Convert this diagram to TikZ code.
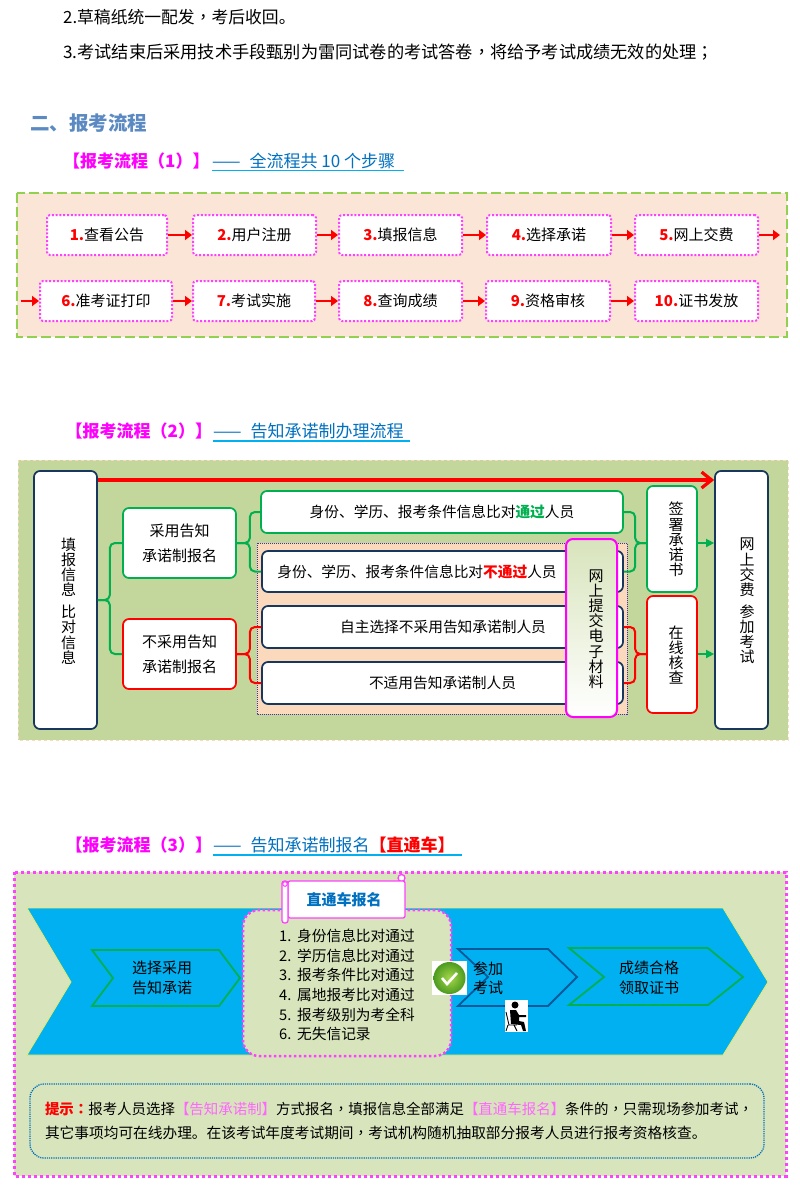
\documentclass[tikz,border=0pt]{standalone}
\usepackage{fontspec}
\setmainfont{Noto Sans CJK SC}
\newfontfamily\cjktc{Noto Sans CJK TC}
\usetikzlibrary{arrows.meta}

\definecolor{headblue}{HTML}{5B8AC3}
\definecolor{linkblue}{HTML}{0070C0}
\definecolor{cyanline}{HTML}{00B0F0}
\definecolor{pinkhead}{HTML}{FF00FF}
\definecolor{stepdot}{HTML}{FF40FF}
\definecolor{peach}{HTML}{FBE5D6}
\definecolor{peachdark}{HTML}{FBD9BC}
\definecolor{limeframe}{HTML}{92D050}
\definecolor{olivepanel}{HTML}{C3D69B}
\definecolor{palepanel}{HTML}{D8E4BC}
\definecolor{navyline}{HTML}{17375E}
\definecolor{okgreen}{HTML}{00B050}
\definecolor{softpink}{HTML}{FF66FF}
\definecolor{ballin}{HTML}{A6D84B}
\definecolor{ballout}{HTML}{4C9A20}
\definecolor{dotpurple}{HTML}{4B2FA8}

\newcommand{\cnfont}[1]{\fontsize{#1}{#1}\selectfont}
\newcommand{\zhcomma}{{\cjktc ，}}

\tikzset{
	plaintext/.style={inner sep=0pt, anchor=west},
	headpink/.style={plaintext, text=pinkhead, font=\cnfont{17}\bfseries},
	headlink/.style={plaintext, text=linkblue, font=\cnfont{17}},
	headrule/.style={cyanline, line width=1.4pt},
	stepbox/.style={draw=stepdot, fill=white, line width=2pt, dash pattern=on 2pt off 1.8pt, rounded corners=3pt, minimum height=40pt, inner sep=0pt, font=\cnfont{15}},
	steparrow/.style={red, line width=2.4pt, -{Triangle[length=7pt,width=10pt]}},
	navybox/.style={draw=navyline, fill=white, line width=1.7pt, rounded corners=6pt, inner sep=0pt, font=\cnfont{15}},
	greenbox/.style={navybox, draw=okgreen},
	redbox/.style={navybox, draw=red},
	rowtext/.style={inner sep=0pt, font=\cnfont{14.7}},
	stacktext/.style={inner sep=0pt, align=center, font=\fontsize{15}{15.2}\selectfont},
	twolines/.style={inner sep=0pt, align=center, font=\fontsize{15}{25}\selectfont},
	arrowlines/.style={inner sep=0pt, align=center, font=\fontsize{15}{19.5}\selectfont},
	gbrace/.style={okgreen, line width=2pt, rounded corners=5pt},
	rbrace/.style={red, line width=2pt, rounded corners=5pt},
	okarrow/.style={okgreen, line width=1.5pt, -{Triangle[length=8pt,width=8pt]}},
	chevron/.style={line width=1.8pt, line join=miter},
}

\begin{document}
\begin{tikzpicture}[x=1pt, y=-1pt]
	\useasboundingbox (0,0) rectangle (800,1189);
	\fill[white] (0,0) rectangle (800,1189);

	\node[plaintext, font=\cnfont{16.8}] (note2) at (63,17) {2.草稿纸统一配发{\cjktc ，}考后收回。};
	\node[plaintext, font=\cnfont{17.2}] (note3) at (63,52) {3.考试结束后采用技术手段甄别为雷同试卷的考试答卷\zhcomma 将给予考试成绩无效的处理{\cjktc ；}};
	\node[plaintext, text=headblue, font=\cnfont{19.5}\bfseries] (title) at (30,123) {二、报考流程};

	% first part
	\node[headpink] (head1) at (63,161) {【报考流程（1）】};
	\node[headlink] (link1) at (212,161) {——\hspace{9pt}全流程共 10 个步骤};
	\draw[headrule] (212,170.5) -- (404,170.5);

	\draw[limeframe, fill=peach, line width=2.2pt, dash pattern=on 10pt off 4pt] (17,193) rectangle (787,337);

	\foreach \name/\num/\txt/\cx/\boxw/\cy in {s1/1./查看公告/107/120/235, s2/2./用户注册/254.5/123/235, s3/3./填报信息/400.5/123/235, s4/4./选择承诺/549/124/235, s5/5./网上交费/696.5/123/235, s6/6./准考证打印/106/132/301, s7/7./考试实施/254/122/301, s8/8./查询成绩/400.5/123/301, s9/9./资格审核/548/124/301, s10/10./证书发放/696.5/123/301}
		\node[stepbox, minimum width=\boxw pt] (\name) at (\cx,\cy) {\textcolor{red}{\bfseries\num}\txt};

	\foreach \a/\b in {s1/s2, s2/s3, s3/s4, s4/s5, s6/s7, s7/s8, s8/s9, s9/s10}
		\draw[steparrow] (\a) -- (\b);
	\coordinate (rowend) at (780,235);
	\coordinate (rowstart) at (21,301);
	\draw[steparrow] (s5) -- (rowend);
	\draw[steparrow] (rowstart) -- (s6);

	% second part
	\node[headpink] (head2) at (65.5,431) {【报考流程（2）】};
	\node[headlink] (link2) at (213,431) {——\hspace{9pt}告知承诺制办理流程};
	\draw[headrule] (213,441) -- (410,441);

	\draw[peachdark, fill=olivepanel, line width=1pt, dashed] (18,460) rectangle (788,740);
	\fill[peachdark] (257,543) rectangle (627,714);
	\draw[dotpurple, line width=1pt, dash pattern=on 1pt off 1pt] (257,543) rectangle (627,714);

	\node[navybox, minimum width=63pt, minimum height=258pt] (infobox) at (65.5,600) {};
	\node[stacktext] (infotext) at (68.5,601) {填\\报\\信\\息\\[6.5pt]比\\对\\信\\息};
	\node[greenbox, minimum width=113pt, minimum height=70pt] (useyes) at (179.5,543) {};
	\node[twolines] (useyestext) at (179.5,543.5) {采用告知\\承诺制报名};
	\node[redbox, minimum width=113pt, minimum height=70pt] (useno) at (179.5,654) {};
	\node[twolines] (usenotext) at (179.5,654.5) {不采用告知\\承诺制报名};

	\node[greenbox, minimum width=362pt, minimum height=42pt] (rowa) at (442,512) {};
	\node[navybox, minimum width=361pt, minimum height=41pt] (rowb) at (442.5,571.5) {};
	\node[navybox, minimum width=361pt, minimum height=42pt] (rowc) at (442.5,627) {};
	\node[navybox, minimum width=361pt, minimum height=42pt] (rowd) at (442.5,683) {};
	\node[rowtext] (rowatext) at (442,512) {身份、学历、报考条件信息比对\textcolor{okgreen}{\bfseries 通过}人员};
	\node[rowtext] (rowbtext) at (417,571.5) {身份、学历、报考条件信息比对\textcolor{red}{\bfseries 不通过}人员};
	\node[rowtext] (rowctext) at (443,627) {自主选择不采用告知承诺制人员};
	\node[rowtext] (rowdtext) at (442.5,683) {不适用告知承诺制人员};

	\node[navybox, draw=pinkhead, top color=palepanel, bottom color=white, line width=2pt, rounded corners=7pt, minimum width=51pt, minimum height=178pt] (uploadbox) at (591.5,628) {};
	\node[stacktext] (uploadtext) at (596,629) {网\\上\\提\\交\\电\\子\\材\\料};

	\node[greenbox, minimum width=50pt, minimum height=106pt] (signbox) at (672,539) {};
	\node[stacktext] (signtext) at (676,539.5) {签\\署\\承\\诺\\书};
	\node[redbox, minimum width=50pt, minimum height=117pt] (checkbox) at (672,654.5) {};
	\node[stacktext] (checktext) at (676,655) {在\\线\\核\\查};
	\node[navybox, minimum width=53pt, minimum height=258pt] (paybox) at (741.5,600) {};
	\node[stacktext] (paytext) at (747,601) {网\\上\\交\\费\\[6.5pt]参\\加\\考\\试};

	\coordinate (fastrow) at (400,480);
	\coordinate (signmid) at (672,543);
	\coordinate (checkmid) at (672,654);
	\draw[red, line width=3.2pt, -{Straight Barb[length=10pt,width=16pt]}] (infobox.east |- fastrow) -- (paybox.west |- fastrow);
	\draw[gbrace] (infobox.east) -- ++(12,0) |- (useyes.west);
	\draw[gbrace] (infobox.east) -- ++(12,0) |- (useno.west);
	\draw[gbrace] (useyes.east) -- ++(13,0) |- (rowa.west);
	\draw[gbrace] (useyes.east) -- ++(13,0) |- (rowb.west);
	\draw[rbrace] (useno.east) -- ++(13,0) |- (rowc.west);
	\draw[rbrace] (useno.east) -- ++(13,0) |- (rowd.west);
	\draw[gbrace] (signbox.west |- signmid) -- ++(-11,0) |- (rowa.east);
	\draw[gbrace] (signbox.west |- signmid) -- ++(-11,0) |- (rowb.east);
	\draw[rbrace] (checkbox.west |- checkmid) -- ++(-11,0) |- (rowc.east);
	\draw[rbrace] (checkbox.west |- checkmid) -- ++(-11,0) |- (rowd.east);
	\draw[okarrow] (signbox.east |- signmid) -- (paybox.west |- signmid);
	\draw[okarrow] (checkbox.east |- checkmid) -- (paybox.west |- checkmid);

	% third part
	\node[headpink] (head3) at (65.5,845) {【报考流程（3）】};
	\node[headlink] (link3) at (213,845) {——\hspace{9pt}告知承诺制报名\textcolor{red}{\bfseries 【直通车】}};
	\draw[headrule] (213,855) -- (462,855);

	\fill[palepanel] (14,872) rectangle (786,1176);
	\draw[stepdot, line width=3pt, dash pattern=on 3pt off 3pt] (14,872) rectangle (786,1176);

	\draw[yellow!50!palepanel, fill=cyanline, line width=0.8pt] (27,908) -- (723,908) -- (768,982) -- (723,1055) -- (27,1055) -- (71,982) -- cycle;
	\draw[chevron, okgreen] (92,950) -- (219,950) -- (240,978) -- (219,1006) -- (92,1006) -- (113,978) -- cycle;
	\draw[chevron, linkblue!80!black] (458,949) -- (548,949) -- (577,977) -- (548,1006) -- (458,1006) -- (488,977) -- cycle;
	\draw[chevron, okgreen] (569,948) -- (708,948) -- (743,977) -- (708,1005) -- (569,1005) -- (604,977) -- cycle;
	\node[arrowlines] (picktext) at (162,978) {选择采用\\告知承诺};
	\node[arrowlines] (examtext) at (488,978) {参加\\考试};
	\node[arrowlines] (certtext) at (649,978) {成绩合格\\领取证书};

	\node[draw=stepdot, fill=palepanel, line width=2.5pt, dash pattern=on 2.5pt off 2.5pt, rounded corners=16pt, minimum width=208pt, minimum height=146pt] (condbox) at (347,983) {};
	\node[inner sep=0pt, align=left, anchor=north west, font=\fontsize{14.7}{19.6}\selectfont] (condlist) at (279,929) {\makebox[18pt][l]{1.}身份信息比对通过\\\makebox[18pt][l]{2.}学历信息比对通过\\\makebox[18pt][l]{3.}报考条件比对通过\\\makebox[18pt][l]{4.}属地报考比对通过\\\makebox[18pt][l]{5.}报考级别为考全科\\\makebox[18pt][l]{6.}无失信记录};

	% scroll banner
	\draw[stepdot, fill=white, line width=1.3pt] (401.5,878) circle[radius=3.5];
	\draw[stepdot, fill=white, line width=1.3pt, rounded corners=2pt] (288,881) -- (405,881) -- (405,918) -- (288,918) -- cycle;
	\draw[stepdot, fill=white, line width=1.3pt, rounded corners=2.5pt] (282,881) -- (288,881) -- (288,923) -- (282,923) -- cycle;
	\draw[stepdot, line width=1pt] (285,884) circle[radius=2.3];
	\node[inner sep=0pt, text=linkblue, font=\cnfont{15}\bfseries] (bannertext) at (344,900) {直通车报名};

	% check mark
	\fill[white] (432,961) rectangle (467,995);
	\shade[inner color=ballin, outer color=ballout] (449.5,978) circle[radius=16];
	\draw[white, line width=2.6pt] (442,978) -- (447,984) -- (457,973);

	% person at the desk
	\fill[white] (505,1000) rectangle (528,1032);
	\fill[black] (515,1005) circle[radius=3.5];
	\fill[black] (510,1010) -- (516,1010) -- (519,1015) -- (526,1015) -- (526,1017) -- (519,1017) -- (519,1021) -- (524,1022) -- (526,1031) -- (523,1031) -- (521,1025) -- (511,1024) -- cycle;
	\draw[black, line width=0.9pt] (506,1012) -- (509,1025) -- (517,1025) (508,1025) -- (506,1031) (514,1025) -- (517,1031);

	% tip box
	\node[draw=linkblue, line width=1.3pt, dash pattern=on 1.2pt off 1pt, rounded corners=14pt, minimum width=734pt, minimum height=74pt, inner xsep=15pt, inner ysep=0pt, text width=704pt, align=left, font=\fontsize{14.45}{24}\selectfont] (tipbox) at (397,1121) {\textcolor{red}{\bfseries 提示{\cjktc ：}}报考人员选择\textcolor{softpink}{【告知承诺制】}方式报名\zhcomma 填报信息全部满足\textcolor{softpink}{【直通车报名】}条件的\zhcomma 只需现场参加考试\zhcomma\\\fontsize{14.7}{24}\selectfont 其它事项均可在线办理。在该考试年度考试期间\zhcomma 考试机构随机抽取部分报考人员进行报考资格核查。};
\end{tikzpicture}
\end{document}
